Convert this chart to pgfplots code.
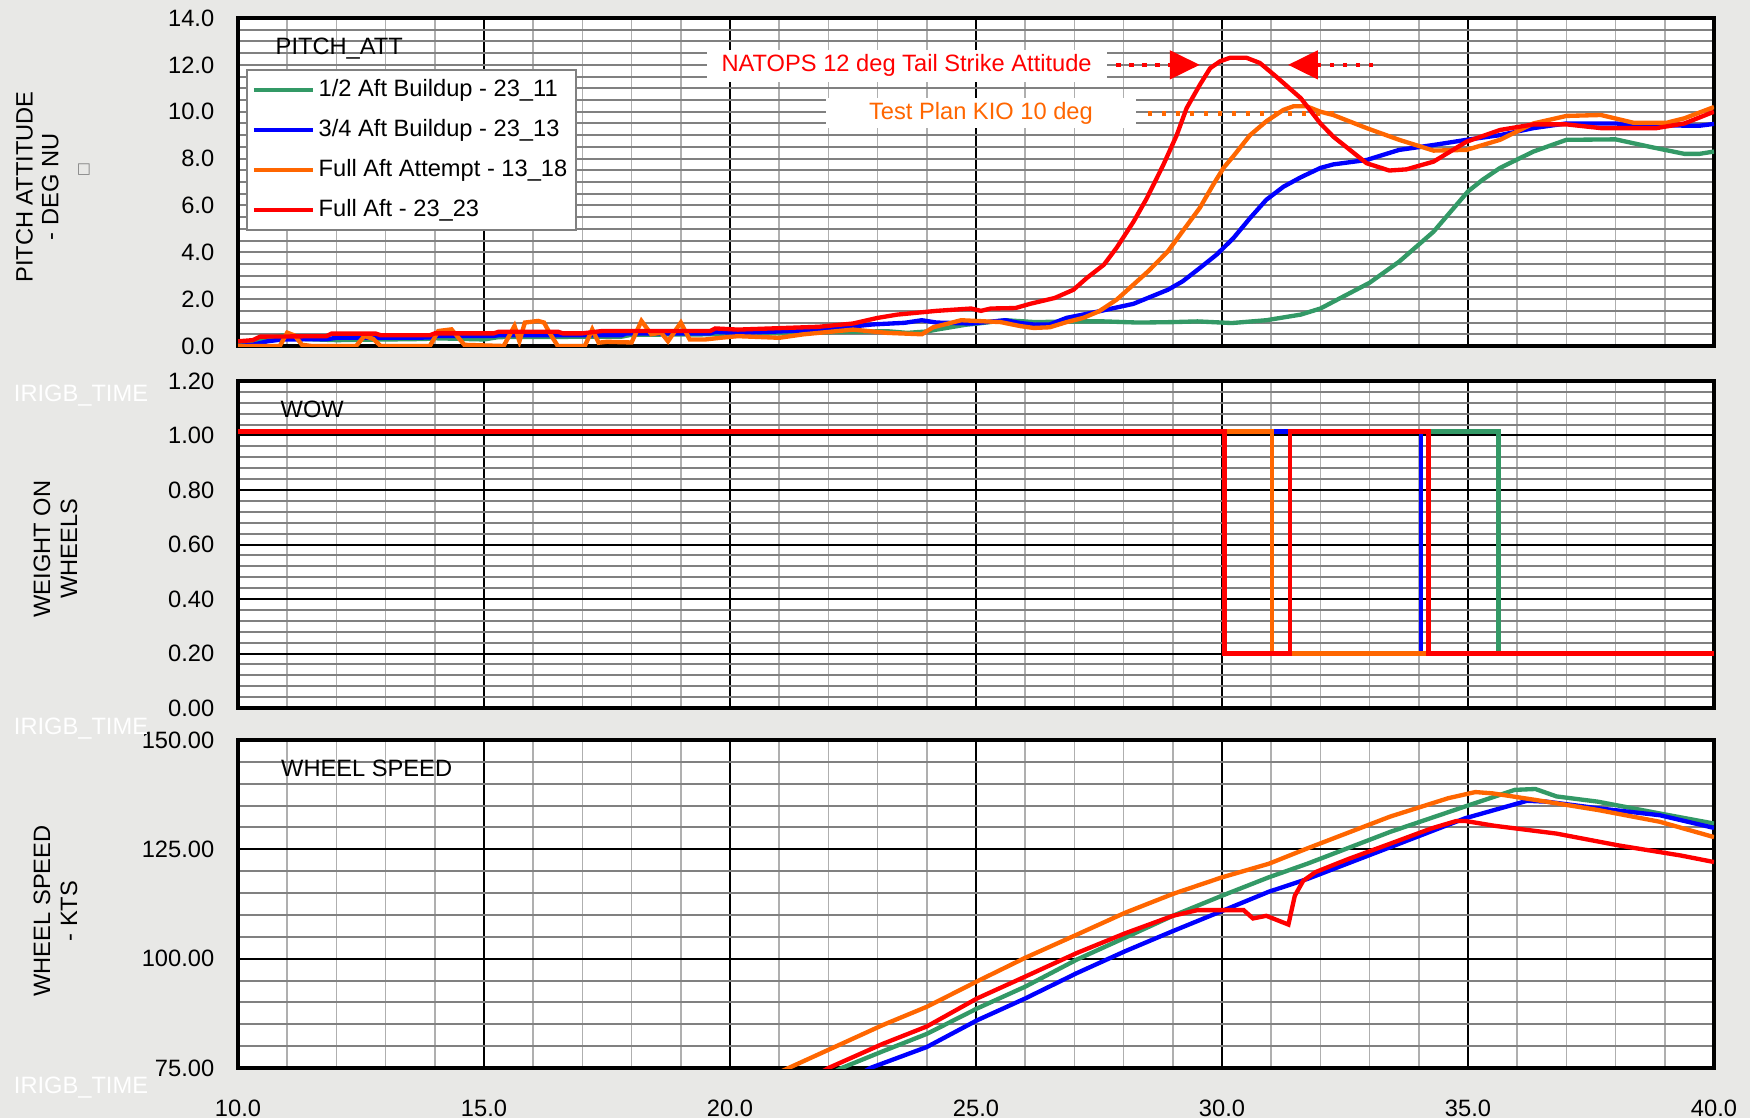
\documentclass[border=0pt]{standalone}
\usepackage{fontspec}
\setmainfont{Liberation Sans}
\newfontfamily\djv{DejaVu Sans}
\usepackage{pgfplots}
\pgfplotsset{compat=1.18}
\usetikzlibrary{arrows.meta}
\definecolor{cgreen}{RGB}{51,153,102}
\definecolor{cblue}{RGB}{0,0,255}
\definecolor{corange}{RGB}{255,102,0}
\definecolor{cred}{RGB}{255,0,0}
\definecolor{bg}{RGB}{232,232,230}
\definecolor{hgrid}{RGB}{128,128,128}
\definecolor{vgrid}{RGB}{175,175,175}
\newcommand{\fs}{\fontsize{7.1}{8}\selectfont}
\pgfplotsset{
  base/.style={
    scale only axis, width=442.8pt, height=98.4pt, anchor=south west,
    xmin=10, xmax=40, xtick={10,15,20,25,30,35,40}, minor x tick num=4,
    grid=both,
    major x grid style={black, line width=0.6pt},
    minor x grid style={vgrid, line width=0.45pt},
    minor y grid style={hgrid, line width=0.6pt},
    axis line style={black, line width=1.2pt},
    axis background/.style={fill=white},
    tick style={draw=none},
    tick label style={font=\fs},
    /pgf/number format/assume math mode=true,
    yticklabel style={xshift=-3.6pt},
    xticklabel style={yshift=-6.2pt, /pgf/number format/.cd, fixed, fixed zerofill, precision=1},
    every axis plot/.append style={line width=1.3pt, mark=none},
  }
}
\begin{document}
\begin{tikzpicture}
\fill[bg] (0,0) rectangle (525pt,335.4pt);

% ---------------- PITCH ----------------
\begin{axis}[base, at={(71.4pt,231.6pt)},
  ymin=0, ymax=14, ytick={0,2,4,6,8,10,12,14}, minor y tick num=3,
  major y grid style={hgrid, line width=0.6pt},
  yticklabel style={/pgf/number format/.cd, fixed, fixed zerofill, precision=1},
  xticklabels={},
  legend style={at={(0.0052,0.8445)}, anchor=north west,
    draw={rgb,255:red,128;green,128;blue,128}, line width=0.6pt, fill=white,
    font=\fs, inner xsep=1.5pt, inner ysep=1pt, row sep=2pt,
    nodes={inner xsep=1pt, inner ysep=1.5pt, text height=5.3pt, text depth=1.7pt}},
  legend cell align=left,
  legend image code/.code={\draw[#1, line width=1.3pt] (0pt,0pt) -- (17.8pt,0pt);},
]
\addplot[forget plot, corange, line width=1.3pt, dash pattern=on 1.2pt off 3pt] coordinates {(28.5,9.92) (32.3,9.92)};
\addplot[forget plot, cred, line width=1.4pt, dash pattern=on 1.3pt off 2.6pt, -{Triangle[length=9pt,width=8.4pt]}] coordinates {(27.85,12) (29.55,12)};
\addplot[forget plot, cred, line width=1.4pt, dash pattern=on 1.3pt off 2.6pt, -{Triangle[length=9pt,width=8.4pt]}] coordinates {(33.07,12) (31.34,12)};

\addplot[cgreen] coordinates {(10,0.1) (10.5,0.3) (10.9,0.45) (11.3,0.3) (12,0.25) (13.8,0.3) (14.0,0.33) (15.0,0.28) (15.3,0.38) (17.8,0.4) (18,0.48) (19.6,0.5) (20.2,0.5) (21.0,0.55) (22.2,0.6) (23.2,0.63) (23.6,0.56) (24.0,0.62) (24.2,0.7) (24.8,0.91) (25.0,0.95) (25.6,1.1) (26.2,1.02) (27.0,1.05) (27.6,1.05) (28.3,1.0) (29.0,1.02) (29.5,1.05) (30.2,0.98) (30.9,1.1) (31.6,1.34) (32.0,1.6) (32.5,2.15) (33.0,2.7) (33.6,3.6) (34.3,4.88) (35.0,6.6) (35.3,7.1) (35.65,7.6) (36.33,8.3) (37.0,8.8) (38.0,8.82) (38.7,8.5) (39.4,8.2) (39.7,8.2) (40.0,8.3)};
\addplot[cblue] coordinates {(10.0,0.0) (10.3,0.05) (10.6,0.2) (10.9,0.28) (11.8,0.29) (12.0,0.35) (13.9,0.36) (14.0,0.43) (15.2,0.43) (15.3,0.46) (17.8,0.46) (17.9,0.54) (19.6,0.54) (19.7,0.6) (20.2,0.56) (21.0,0.62) (21.85,0.7) (22.9,0.92) (23.55,0.99) (23.9,1.1) (24.2,1.0) (24.9,0.96) (25.6,1.1) (25.9,0.98) (26.2,0.91) (26.5,0.92) (26.84,1.2) (27.5,1.48) (28.2,1.8) (28.9,2.4) (29.2,2.76) (29.55,3.33) (29.89,3.9) (30.23,4.6) (30.57,5.46) (30.9,6.24) (31.25,6.8) (31.6,7.2) (32.0,7.6) (32.26,7.75) (32.94,7.94) (33.6,8.37) (34.3,8.58) (34.97,8.8) (35.65,9.0) (36.33,9.3) (37.0,9.5) (38.0,9.5) (38.36,9.43) (39.7,9.4) (40.0,9.48)};
\addplot[corange] coordinates {(10.0,0.0) (10.85,0.0) (11.0,0.57) (11.15,0.45) (11.3,0.05) (11.5,0.0) (12.4,0.0) (12.57,0.43) (12.75,0.3) (12.9,0.0) (13.9,0.0) (14.07,0.64) (14.34,0.71) (14.6,0.05) (15.4,0.0) (15.62,0.86) (15.72,0.2) (15.83,1.0) (16.1,1.07) (16.22,1.0) (16.33,0.57) (16.5,0.0) (17.05,0.0) (17.2,0.71) (17.33,0.14) (17.5,0.18) (18.0,0.15) (18.2,1.07) (18.4,0.5) (18.6,0.57) (18.74,0.2) (19.0,1.0) (19.18,0.28) (19.5,0.28) (19.8,0.35) (20.16,0.42) (21.0,0.35) (21.5,0.5) (22.5,0.7) (23.2,0.56) (23.9,0.5) (24.13,0.8) (24.7,1.1) (25.5,1.02) (25.9,0.85) (26.17,0.77) (26.5,0.8) (26.84,1.02) (27.18,1.2) (27.5,1.48) (27.86,1.98) (28.2,2.62) (28.5,3.19) (28.9,4.04) (29.2,4.9) (29.55,5.9) (29.82,6.88) (30.03,7.6) (30.23,8.1) (30.57,9.0) (30.9,9.59) (31.25,10.08) (31.45,10.23) (31.72,10.23) (32.0,10.0) (32.26,9.86) (32.94,9.3) (33.6,8.8) (34.3,8.34) (34.97,8.37) (35.65,8.8) (36.33,9.5) (37.0,9.82) (37.7,9.86) (38.36,9.53) (39.04,9.53) (39.4,9.72) (40.0,10.2)};
\addplot[cred] coordinates {(10.0,0.2) (10.3,0.25) (10.45,0.4) (11.8,0.42) (11.9,0.53) (12.8,0.53) (12.9,0.46) (13.9,0.46) (14.0,0.54) (15.2,0.54) (15.3,0.61) (16.5,0.61) (16.6,0.54) (17.0,0.54) (17.4,0.64) (19.6,0.64) (19.7,0.75) (20.16,0.70) (21.8,0.82) (22.5,0.96) (23.0,1.2) (23.4,1.34) (24.2,1.5) (24.9,1.6) (25.1,1.5) (25.3,1.6) (25.8,1.62) (26.1,1.8) (26.6,2.05) (26.98,2.4) (27.25,2.9) (27.6,3.47) (27.86,4.2) (28.2,5.3) (28.47,6.3) (28.8,7.7) (29.08,9.0) (29.28,10.15) (29.55,11.15) (29.76,11.86) (29.96,12.15) (30.16,12.3) (30.5,12.3) (30.77,12.08) (31.1,11.5) (31.6,10.58) (32.0,9.5) (32.26,8.94) (32.94,7.8) (33.4,7.49) (33.75,7.54) (34.3,7.87) (34.97,8.72) (35.65,9.22) (36.33,9.46) (37.0,9.46) (37.7,9.3) (38.83,9.3) (39.4,9.5) (40.0,10.0)};
\legend{1/2 Aft Buildup - 23\_11, 3/4 Aft Buildup - 23\_13, Full Aft Attempt - 13\_18, Full Aft - 23\_23}
\node[anchor=base west, inner sep=0pt, font=\fs] at (rel axis cs:0.0251,0.8887) {PITCH\_ATT};
\node[fill=white, text=cred, font=\fs, inner xsep=4.5pt, inner ysep=0pt, minimum height=9.5pt] at (axis cs:23.59,11.96) {NATOPS 12 deg Tail Strike Attitude};
\node[fill=white, text=corange, font=\fs, inner ysep=0pt, minimum width=93pt, minimum height=9pt] at (axis cs:25.1,9.94) {Test Plan KIO 10 deg};
\end{axis}

% ---------------- WOW ----------------
\begin{axis}[base, at={(71.4pt,123pt)}, height=98.1pt,
  ymin=0, ymax=1.2, ytick={0,0.2,0.4,0.6,0.8,1.0,1.2}, minor y tick num=4,
  major y grid style={black, line width=0.6pt},
  yticklabel style={/pgf/number format/.cd, fixed, fixed zerofill, precision=2},
  xticklabels={},
]
\addplot[cgreen] coordinates {(10,1.015) (35.62,1.015) (35.62,0.2) (40,0.2)};
\addplot[cblue] coordinates {(10,1.015) (34.05,1.015) (34.05,0.2) (40,0.2)};
\addplot[corange] coordinates {(10,1.015) (31.02,1.015) (31.02,0.2) (40,0.2)};
\addplot[cred] coordinates {(10,1.015) (30.05,1.015) (30.05,0.2) (31.38,0.2) (31.38,1.015) (34.2,1.015) (34.2,0.2) (40,0.2)};
\node[anchor=base west, inner sep=0pt, font=\fs] at (rel axis cs:0.0285,0.8899) {WOW};
\end{axis}

% ---------------- WHEEL SPEED ----------------
\begin{axis}[base, at={(71.4pt,15pt)},
  ymin=75, ymax=150, ytick={75,100,125,150}, minor y tick num=4,
  major y grid style={black, line width=0.6pt},
  yticklabel style={/pgf/number format/.cd, fixed, fixed zerofill, precision=2},
]
\addplot[cgreen] coordinates {(22.1,74) (22.27,75) (23.1,78.8) (24.0,82.8) (25.02,88.6) (26.0,93.6) (27.05,99.8) (28.03,104.8) (29.0,109.8) (30.0,114.4) (30.95,118.6) (31.73,121.7) (33.42,129) (34.94,134.8) (35.95,138.6) (36.37,138.8) (36.8,137.1) (37.64,135.9) (38.9,133.2) (40,130.9)};
\addplot[cblue] coordinates {(22.7,74) (22.85,75) (24.0,79.8) (25.02,85.9) (26.0,90.9) (27.05,96.7) (28.03,101.7) (29.0,106.3) (30.0,110.9) (30.95,115.3) (31.73,118.2) (33.42,125.5) (34.94,132.1) (36.2,136.1) (36.6,135.9) (37.64,134.4) (38.9,132.8) (40,129.9)};
\addplot[corange] coordinates {(21.0,74) (21.19,75) (21.97,79) (23.1,84.8) (24.0,89.0) (25.02,94.8) (26.0,100.2) (27.05,105.5) (28.03,110.5) (29.0,114.8) (30.0,118.6) (30.95,121.7) (31.73,125.2) (33.42,132.5) (34.6,136.7) (35.15,138.1) (35.5,137.8) (36.37,136.3) (37.64,134) (38.9,131.3) (40,127.8)};
\addplot[cred] coordinates {(21.85,74) (22.0,75) (23.1,80.5) (24.0,84.5) (25.02,90.9) (26.0,95.9) (27.05,101.3) (28.03,105.8) (29.0,109.8) (29.5,111.1) (30.03,111.1) (30.44,111.1) (30.63,109.2) (30.9,109.8) (31.35,107.8) (31.48,114.4) (31.65,117.8) (31.9,119.8) (32.57,122.8) (33.42,126.3) (34.26,129.8) (34.77,131.5) (34.94,131.5) (35.53,130.4) (36.8,128.6) (38.06,125.9) (39.32,123.6) (40,122.1)};
\node[anchor=base west, inner sep=0pt, font=\fs] at (rel axis cs:0.0288,0.888) {WHEEL SPEED};
\end{axis}

% ---------------- labels outside ----------------
\node[rotate=90, align=center, font=\fontsize{7.1}{7.7}\selectfont, inner sep=0pt] at (11.2pt,279.3pt) {PITCH ATTITUDE\\- DEG NU};
\node[font=\djv\fontsize{4.5}{5}\selectfont, text=gray, inner sep=0pt] at (25.2pt,284.4pt) {□};
\node[rotate=90, align=center, font=\fontsize{7.1}{8.1}\selectfont, inner sep=0pt] at (16.65pt,170.7pt) {WEIGHT ON\\WHEELS};
\node[rotate=90, align=center, font=\fontsize{7.1}{8.1}\selectfont, inner sep=0pt] at (16.65pt,62.1pt) {WHEEL SPEED\\- KTS};
\node[text=white, font=\fs, inner sep=0pt] at (24.3pt,216.6pt) {IRIGB\_TIME};
\node[text=white, font=\fs, inner sep=0pt] at (24.3pt,116.7pt) {IRIGB\_TIME};
\node[text=white, font=\fs, inner sep=0pt] at (24.3pt,9.0pt) {IRIGB\_TIME};
\pgfresetboundingbox
\path[use as bounding box] (0,0) rectangle (525pt,335.4pt);
\end{tikzpicture}
\end{document}
